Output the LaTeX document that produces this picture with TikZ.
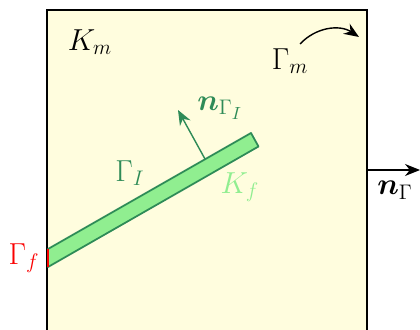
\documentclass[tikz,border=0pt]{standalone}
\usepackage{amsmath,amssymb,bm}
\usetikzlibrary{arrows.meta}
\definecolor{dommat}{RGB}{255,253,222}
\definecolor{fracfill}{RGB}{144,238,144}
\definecolor{fracedge}{RGB}{46,139,87}
\definecolor{fracred}{RGB}{250,0,0}

\begin{document}
\begin{tikzpicture}[
    >={Stealth[length=3.0mm,width=2.4mm]},
    dom/.style={draw=black, fill=dommat, line width=1.1pt},
    frac/.style={draw=fracedge, fill=fracfill, line width=1.0pt, line join=round},
    nrm/.style={->, line width=0.8pt},
    lab/.style={font=\LARGE, inner sep=0pt},
  ]
  \useasboundingbox (0,0) rectangle (8.40,6.58);

  % matrix domain
  \draw[dom] (0.94,-0.10) rectangle (7.34,6.38);

  % fracture strip
  \coordinate (fa) at (0.96,1.60);
  \coordinate (fb) at (5.02,3.92);
  \coordinate (fc) at (5.17,3.65);
  \coordinate (fd) at (0.96,1.24);
  \draw[frac] (fa) -- (fb) -- (fc) -- (fd) -- cycle;
  \draw[fracred, line width=1.4pt] (fd) -- (fa);

  % normals
  \coordinate (nI0) at (4.10,3.40);
  \coordinate (nI1) at (3.56,4.38);
  \draw[nrm, fracedge] (nI0) -- (nI1);
  \coordinate (nG0) at (7.34,3.18);
  \coordinate (nG1) at (8.40,3.18);
  \draw[nrm] (nG0) -- (nG1);

  % boundary orientation
  \coordinate (gm0) at (6.00,5.70);
  \coordinate (gm1) at (7.18,5.84);
  \draw[nrm] (gm0) to[bend left=40] (gm1);

  \node[lab] (Km) at (1.80,5.74) {$K_m$};
  \node[lab] (Gm) at (5.80,5.36) {$\Gamma_m$};
  \node[lab, fracedge] (nGI) at (4.40,4.42) {$\bm{n}_{\Gamma_I}$};
  \node[lab, fracedge] (GI) at (2.60,3.12) {$\Gamma_I$};
  \node[lab, fracfill] (Kf) at (4.80,2.84) {$K_f$};
  \node[lab, fracred] (Gf) at (0.48,1.42) {$\Gamma_f$};
  \node[lab] (nG) at (7.90,2.78) {$\bm{n}_\Gamma$};

\end{tikzpicture}
\end{document}
